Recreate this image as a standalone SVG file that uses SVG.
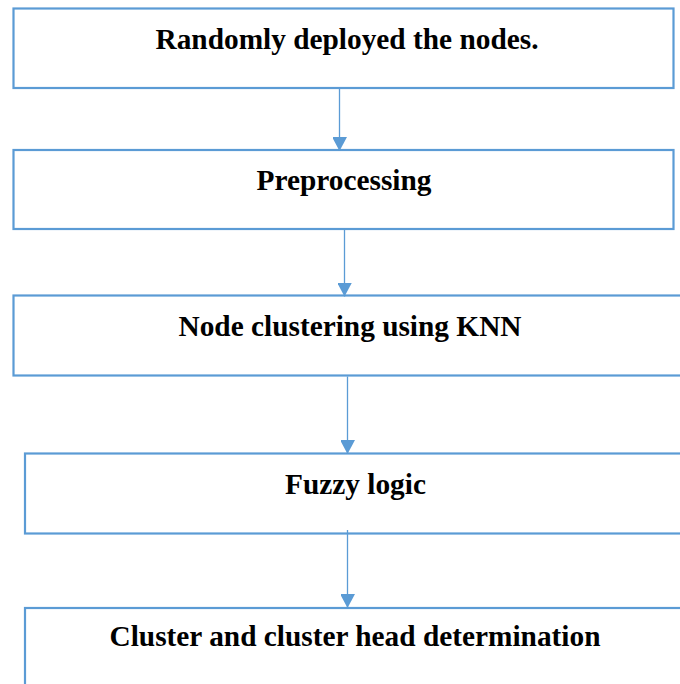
<svg xmlns="http://www.w3.org/2000/svg" width="680" height="684" viewBox="0 0 680 684">
<style>
.box{fill:#ffffff;stroke:#5B9BD5;stroke-width:2.2}
.lbl{font-family:"Liberation Serif","Times New Roman",serif;font-weight:bold;font-size:29.33px;fill:#000000;text-anchor:middle}
.conn{stroke:#5B9BD5;stroke-width:1.3;fill:none}
</style>
<defs>
<marker id="ah" markerUnits="userSpaceOnUse" markerWidth="16" markerHeight="14" refX="14" refY="7.5" orient="auto">
<path d="M0,0 L14,7.5 L0,15 Z" fill="#5B9BD5"/>
</marker>
</defs>
<rect width="680" height="684" fill="#ffffff"/>
<g id="n1"><rect class="box" x="13.5" y="8.5" width="660" height="79.5"/><text class="lbl" x="347" y="49">Randomly deployed the nodes.</text></g>
<g id="n2"><rect class="box" x="13.5" y="150" width="660" height="79"/><text class="lbl" x="344" y="190">Preprocessing</text></g>
<g id="n3"><rect class="box" x="13.5" y="295.5" width="680" height="80"/><text class="lbl" x="350" y="336">Node clustering using KNN</text></g>
<g id="n4"><rect class="box" x="25" y="453.5" width="670" height="80"/><text class="lbl" x="355.5" y="494">Fuzzy logic</text></g>
<g id="n5"><rect class="box" x="25" y="608" width="670" height="100"/><text class="lbl" x="355" y="646">Cluster and cluster head determination</text></g>
<g id="connectors">
<line class="conn" x1="339.5" y1="89" x2="339.5" y2="151" marker-end="url(#ah)"/>
<line class="conn" x1="344.5" y1="230" x2="344.5" y2="296.5" marker-end="url(#ah)"/>
<line class="conn" x1="347.5" y1="376.5" x2="347.5" y2="454" marker-end="url(#ah)"/>
<line class="conn" x1="347.5" y1="530" x2="347.5" y2="608" marker-end="url(#ah)"/>
</g>
</svg>
